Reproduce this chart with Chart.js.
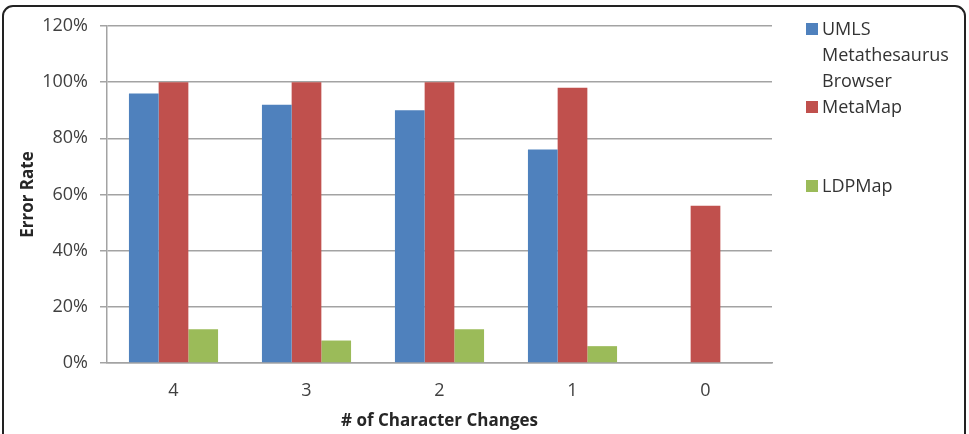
<!DOCTYPE html>
<html>
<head>
<meta charset="utf-8">
<script src="https://cdn.jsdelivr.net/npm/chart.js@4.4.1/dist/chart.umd.min.js"></script>
<style>
  html, body { margin: 0; padding: 0; background: #fff; overflow: hidden; }
  #wrap { position: relative; width: 969px; height: 434px; overflow: hidden; }
  #frame { position: absolute; left: 2px; top: 5px; width: 964px; height: 450px;
           border: 2px solid #222; border-radius: 11px; box-sizing: border-box; pointer-events: none; }
  canvas { position: absolute; left: 0; top: 0; }
  .leg { position: absolute; font-family: "Open Sans", sans-serif; font-size: 18px; color: #333; line-height: 26px; }
  .sw { position: absolute; width: 12px; height: 12px; }
</style>
</head>
<body>
<div id="wrap">
  <canvas id="c" width="969" height="434"></canvas>
  <div id="frame"></div>
  <div id="legend"></div>
</div>
<script>
const categories = ['4', '3', '2', '1', '0'];
const umlsValues = [96, 92, 90, 76, 0];
const metamapValues = [100, 100, 100, 98, 56];
const ldpmapValues = [12, 8, 12, 6, 0];
const yTicks = [0, 20, 40, 60, 80, 100, 120];
const seriesNames = [['UMLS', 'Metathesaurus', 'Browser'], ['MetaMap'], ['LDPMap']];
const seriesColors = ['#4F81BD', '#C0504D', '#9BBB59'];

const FONT = '"Open Sans", sans-serif';
const gridColor = '#a3a3a3';

new Chart(document.getElementById('c'), {
  type: 'bar',
  data: {
    labels: categories,
    datasets: [
      { label: seriesNames[0].join(' '), data: umlsValues, backgroundColor: seriesColors[0] },
      { label: seriesNames[1].join(' '), data: metamapValues, backgroundColor: seriesColors[1] },
      { label: seriesNames[2].join(' '), data: ldpmapValues, backgroundColor: seriesColors[2] }
    ]
  },
  options: {
    responsive: false,
    animation: false,
    layout: { padding: { left: 0, top: 26, right: 197, bottom: 0 } },
    datasets: { bar: { categoryPercentage: 0.67, barPercentage: 1.0, borderWidth: 0 } },
    plugins: { legend: { display: false }, tooltip: { enabled: false } },
    scales: {
      x: {
        grid: { display: false, drawTicks: false },
        border: { display: true, color: gridColor, width: 1.5 },
        ticks: { color: '#404040', font: { family: FONT, size: 18 }, padding: 17 },
        title: { display: true, text: '# of Character Changes', color: '#262626',
                 font: { family: FONT, size: 17, weight: 'bold' }, padding: { top: 0, bottom: 3 } },
        afterFit: s => { s.height = 71; }
      },
      y: {
        min: 0, max: 120,
        afterBuildTicks: s => { s.ticks = yTicks.map(v => ({ value: v })); },
        grid: { color: gridColor, lineWidth: 1.5, tickLength: 7, drawTicks: true },
        border: { display: true, color: gridColor, width: 1.5 },
        ticks: { color: '#404040', font: { family: FONT, size: 18 }, padding: 12,
                 callback: v => v + '%' },
        title: { display: true, text: 'Error Rate', color: '#262626',
                 font: { family: FONT, size: 17, weight: 'bold' }, padding: { top: 18, bottom: 0 } },
        afterFit: s => { s.width = 107; }
      }
    }
  }
});

// HTML legend
const legendPos = [ { y: 29 }, { y: 107 }, { y: 186 } ];
const legend = document.getElementById('legend');
seriesNames.forEach((lines, i) => {
  const cy = legendPos[i].y;
  const sw = document.createElement('div');
  sw.className = 'sw';
  sw.style.background = seriesColors[i];
  sw.style.left = '806px';
  sw.style.top = (cy - 6) + 'px';
  legend.appendChild(sw);
  const t = document.createElement('div');
  t.className = 'leg';
  t.style.left = '822px';
  t.style.top = (cy - 14) + 'px';
  t.innerHTML = lines.join('<br>');
  legend.appendChild(t);
});
</script>
</body>
</html>
